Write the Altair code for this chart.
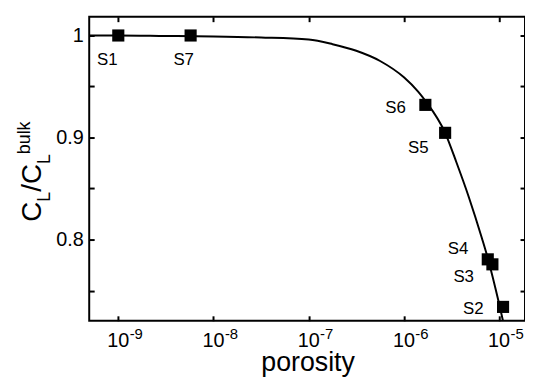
import altair as alt
import pandas as pd

# ---- data ----
curve_x = [4.95e-10, 1e-9, 3.16e-9, 1e-8, 3.16e-8, 1e-7, 1.78e-7, 3.16e-7, 5.62e-7,
           1e-6, 1.41e-6, 1.68e-6, 2.71e-6, 3.55e-6, 4.79e-6, 6.61e-6, 7.59e-6, 1.0e-5, 1.1e-5]
curve_y = [1.0, 1.0, 0.9995, 0.999, 0.998, 0.996, 0.9915, 0.985, 0.975,
           0.959, 0.945, 0.936, 0.9046, 0.876, 0.842, 0.801, 0.782, 0.737, 0.72]

sample_names = ["S1", "S7", "S6", "S5", "S4", "S3", "S2"]
sample_x = [1e-9, 5.75e-9, 1.68e-6, 2.71e-6, 7.6e-6, 8.5e-6, 1.1e-5]
sample_y = [1.0, 1.0, 0.932, 0.9046, 0.7806, 0.7757, 0.734]

x_tick_values = [1e-9, 1e-8, 1e-7, 1e-6, 1e-5]
x_tick_exps = ["-9", "-8", "-7", "-6", "-5"]
y_tick_values = [0.75, 0.8, 0.85, 0.9, 0.95, 1.0]

# ---- styling / layout ----
label_dx = [-11, -7, -30, -27, -30, -29, -30]
label_dy = [25, 25, 3, 15, -10, 13, 2]
FONT = "Liberation Sans"
W, H = 440, 307

xscale = alt.Scale(type="log", domain=[4.95e-10, 1.87e-5])
yscale = alt.Scale(domain=[0.7204, 1.0184])

curve_df = pd.DataFrame({"x": curve_x, "y": curve_y})
samp_df = pd.DataFrame({"x": sample_x, "y": sample_y, "name": sample_names})
tick_df = pd.DataFrame({"x": x_tick_values, "e": x_tick_exps})

def xaxis(orient):
    return alt.Axis(orient=orient, values=x_tick_values, labels=False, ticks=True,
                    tickSize=5, tickWidth=2, tickColor="black", domain=False,
                    grid=False, offset=-5, title=None)

def yaxis(orient, labels):
    kw = dict(orient=orient, values=y_tick_values, ticks=True, tickSize=5,
              tickWidth=2, tickColor="black", domain=False, grid=False,
              offset=-5, title=None)
    if labels:
        kw.update(labels=True, labelFont=FONT, labelFontSize=20, labelColor="black",
                  labelPadding=6,
                  labelExpr="datum.value == 1 ? '1' : (datum.value == 0.9 ? '0.9' : (datum.value == 0.8 ? '0.8' : ''))")
    else:
        kw.update(labels=False)
    return alt.Axis(**kw)

line = alt.Chart(curve_df).mark_line(color="black", strokeWidth=2, clip=True,
                                     interpolate="monotone").encode(
    x=alt.X("x:Q", scale=xscale, axis=xaxis("bottom")),
    y=alt.Y("y:Q", scale=yscale, axis=yaxis("left", True)),
)

squares = alt.Chart(samp_df).mark_square(color="black", size=150, opacity=1).encode(
    x=alt.X("x:Q", scale=xscale, axis=xaxis("top")),
    y=alt.Y("y:Q", scale=yscale, axis=yaxis("right", False)),
)

frame = alt.Chart(alt.Data(values=[{}])).mark_rect(
    fill=None, stroke="black", strokeWidth=2
).encode(x=alt.value(0), x2=alt.value(W), y=alt.value(0), y2=alt.value(H))

layers = [line, squares, frame]

for name, sx, sy, dx, dy in zip(sample_names, sample_x, sample_y, label_dx, label_dy):
    layers.append(
        alt.Chart(pd.DataFrame({"x": [sx], "y": [sy], "name": [name]}))
        .mark_text(font=FONT, fontSize=17, color="black", align="center",
                   baseline="middle", dx=dx, dy=dy)
        .encode(x=alt.X("x:Q", scale=xscale, axis=None),
                y=alt.Y("y:Q", scale=yscale, axis=None),
                text="name:N")
    )

# x tick labels: "10" with superscript exponent
layers.append(
    alt.Chart(tick_df).mark_text(font=FONT, fontSize=20, color="black",
                                 align="center", baseline="alphabetic", text="10")
    .encode(x=alt.X("x:Q", scale=xscale, axis=None), y=alt.value(333))
)
layers.append(
    alt.Chart(tick_df).mark_text(font=FONT, fontSize=15, color="black",
                                 align="left", baseline="alphabetic", dx=11.5)
    .encode(x=alt.X("x:Q", scale=xscale, axis=None), y=alt.value(325), text="e:N")
)

# x title
layers.append(
    alt.Chart(alt.Data(values=[{}])).mark_text(font=FONT, fontSize=27, color="black",
                                               align="center", baseline="alphabetic",
                                               text="porosity")
    .encode(x=alt.value(221), y=alt.value(358))
)

# y title: C_L / C_L^bulk built from pieces (rotated)
title_pieces = ["C", "L", "/", "C", "L", "bulk"]
piece_x = [-49, -40, -49, -49, -40, -60]
piece_y = [207, 186.8, 176.8, 169, 148.8, 138.8]
piece_size = [28, 18, 28, 28, 18, 18]
for t, px, py, fs in zip(title_pieces, piece_x, piece_y, piece_size):
    layers.append(
        alt.Chart(alt.Data(values=[{}])).mark_text(font=FONT, fontSize=fs, color="black",
                                                   align="left", baseline="alphabetic",
                                                   angle=270, text=t)
        .encode(x=alt.value(px), y=alt.value(py))
    )

chart = alt.layer(*layers).resolve_axis(x="independent", y="independent").properties(
    width=W, height=H,
    background="white",
    autosize=alt.AutoSizeParams(type="none"),
    padding={"left": 82, "top": 7, "right": 0, "bottom": 58},
).configure_view(stroke=None)

chart.save("out.html", embed_options={"renderer": "svg", "actions": False})
